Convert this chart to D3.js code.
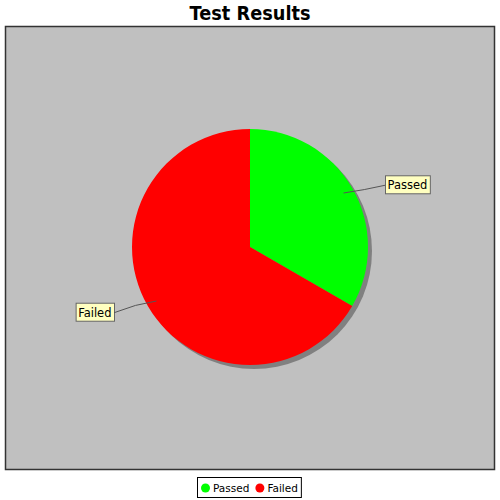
<!DOCTYPE html>
<html>
<head>
<meta charset="utf-8">
<script src="https://cdn.jsdelivr.net/npm/d3@7"></script>
<style>
  body { margin: 0; background: #fff; }
  svg { display: block; }
</style>
</head>
<body>
<div id="chart"></div>
<script>
// 数据
const categories = ["Passed", "Failed"];
const counts = [1, 2];
const sliceColors = ["#00ff00", "#ff0000"];

const width = 500, height = 500;
const svg = d3.select("#chart").append("svg")
    .attr("width", width)
    .attr("height", height);

// 标题
svg.append("text")
    .attr("x", 250)
    .attr("y", 20)
    .attr("text-anchor", "middle")
    .attr("font-family", "DejaVu Sans")
    .attr("font-weight", "bold")
    .attr("font-size", 20)
    .attr("textLength", 121)
    .attr("lengthAdjust", "spacingAndGlyphs")
    .text("Test Results");

// 绘图区
svg.append("rect")
    .attr("x", 5.5).attr("y", 26.5)
    .attr("width", 489).attr("height", 443)
    .attr("fill", "#c0c0c0")
    .attr("stroke", "#333")
    .attr("stroke-width", 1.5);

const cx = 250, cy = 247, r = 118;
const pie = d3.pie().sort(null).value(d => d)(counts);
const arc = d3.arc().innerRadius(0).outerRadius(r);

// 阴影
svg.append("circle")
    .attr("cx", cx + 4).attr("cy", cy + 4).attr("r", r)
    .attr("fill", "#808080");

const g = svg.append("g").attr("transform", `translate(${cx},${cy})`);
g.selectAll("path")
    .data(pie)
    .enter()
    .append("path")
    .attr("d", arc)
    .attr("fill", (d, i) => sliceColors[i]);

// 标签和连接线
pie.forEach((d, i) => {
    const mid = (d.startAngle + d.endAngle) / 2;
    const sx = Math.sin(mid), sy = -Math.cos(mid);
    const p0 = [sx * (r - 10), sy * (r - 10)];
    const right = sx > 0;
    const lx = right ? 135 : -136;
    const ly = sy * r * 1.08 + 2;
    const ctrl = [sx * (r + 14), sy * (r - 4)];
    g.append("path")
        .attr("d", `M${p0[0]},${p0[1]} Q${ctrl[0]},${ctrl[1]} ${lx},${ly}`)
        .attr("fill", "none")
        .attr("stroke", "#555")
        .attr("stroke-width", 1);
    const t = g.append("text")
        .attr("font-family", "DejaVu Sans")
        .attr("font-size", 11.5)
        .attr("y", ly + 4)
        .text(categories[i]);
    const w = t.node().getComputedTextLength();
    const bx = right ? lx : lx - w - 5;
    t.attr("x", bx + 2.5);
    g.insert("rect", "text")
        .attr("x", bx + 0.5).attr("y", ly - 9.5)
        .attr("width", w + 5).attr("height", 18)
        .attr("fill", "#ffffc0")
        .attr("stroke", "#666");
});

// 图例
const legend = svg.append("g");
const items = legend.selectAll("g").data(categories).enter().append("g");
let xpos = 202;
items.each(function(c, i) {
    const it = d3.select(this);
    it.append("circle").attr("cx", xpos + 3.5).attr("cy", 488).attr("r", 4.5).attr("fill", sliceColors[i]);
    const t = it.append("text")
        .attr("x", xpos + 11).attr("y", 492)
        .attr("font-family", "DejaVu Sans")
        .attr("font-size", 10.5)
        .text(c);
    xpos += 11 + t.node().getComputedTextLength() + 7;
});
legend.insert("rect", "g")
    .attr("x", 197.5).attr("y", 477.5)
    .attr("width", xpos - 197 - 4).attr("height", 20)
    .attr("fill", "#fff")
    .attr("stroke", "#000");
</script>
</body>
</html>
